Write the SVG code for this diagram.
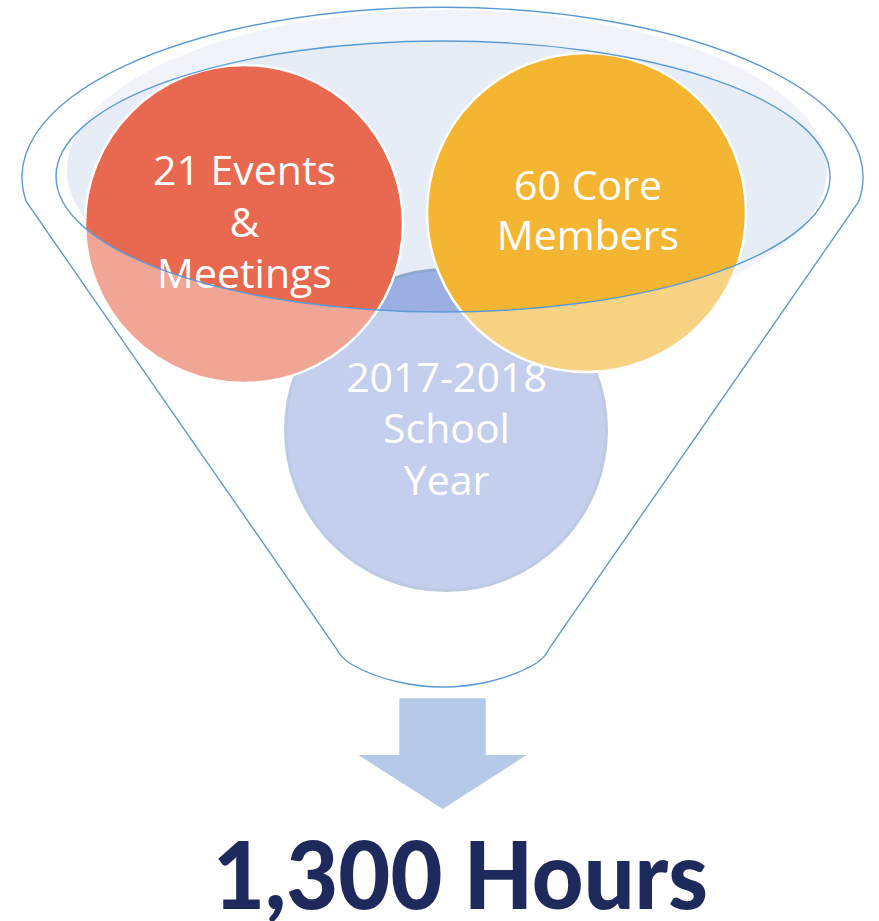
<svg xmlns="http://www.w3.org/2000/svg" width="879" height="921" viewBox="0 0 879 921">
  <style>
    .lbl { font-family: "Open Sans", "Noto Sans", sans-serif; font-size: 41px; fill: #ffffff; text-anchor: middle; }
    .line { fill: none; stroke: #5B9BD5; stroke-width: 1.4; }
    .wring { stroke: #ffffff; stroke-width: 2.5; }
    .result { font-family: Lato, "Liberation Sans", sans-serif; font-weight: 900; font-size: 93px; fill: #1F2A5C; text-anchor: middle; }
  </style>
  <rect width="879" height="921" fill="#ffffff"/>

  <!-- funnel mouth (back fill) -->
  <g id="funnel-back">
    <ellipse cx="447" cy="170" rx="380" ry="160" fill="#E6EDF7"/>
  </g>

  <g id="node-year">
    <circle cx="446" cy="430" r="160.5" fill="#9CAFE2" stroke="#8FA8D0" stroke-width="3"/>
    <text class="lbl" x="446.5" y="391.5">2017-2018</text>
    <text class="lbl" x="446.5" y="443">School</text>
    <text class="lbl" x="446.5" y="495">Year</text>
  </g>

  <g id="node-events">
    <circle class="wring" cx="244" cy="224" r="159" fill="#E8694F"/>
    <text class="lbl" x="244.5" y="185">21 Events</text>
    <text class="lbl" x="244.5" y="237">&amp;</text>
    <text class="lbl" x="244.5" y="288">Meetings</text>
  </g>

  <g id="node-members">
    <circle class="wring" cx="586.5" cy="212.5" r="159.5" fill="#F4B632"/>
    <text class="lbl" x="588" y="200">60 Core</text>
    <text class="lbl" x="588" y="250">Members</text>
  </g>

  <!-- funnel glass body and outlines -->
  <g id="funnel">
    <path fill="#ffffff" fill-opacity="0.4" fill-rule="evenodd" d="M 26.5 202 A 420.5 170 0 1 1 858.5 202 L 549.5 648 Q 545 658 535 664 C 508 680 472 687 443 687 C 414 687 378 680 351 664 Q 341 658 336 648 Z M 56 176.5 A 387 135.5 0 1 0 830 176.5 A 387 135.5 0 1 0 56 176.5 Z"/>
    <path class="line" d="M 26.5 202 A 420.5 170 0 1 1 858.5 202 L 549.5 648 Q 545 658 535 664 C 508 680 472 687 443 687 C 414 687 378 680 351 664 Q 341 658 336 648 Z"/>
    <ellipse class="line" cx="443" cy="176.5" rx="387" ry="135.5"/>
  </g>

  <g id="connectors">
    <polygon fill="#B5CAE8" points="399.3,698.3 485.7,698.3 485.7,755 526.7,755 442.7,809 358.3,755 399.3,755"/>
  </g>

  <g id="node-result">
    <text class="result" x="460.5" y="909" textLength="495" lengthAdjust="spacingAndGlyphs">1,300 Hours</text>
  </g>
</svg>
